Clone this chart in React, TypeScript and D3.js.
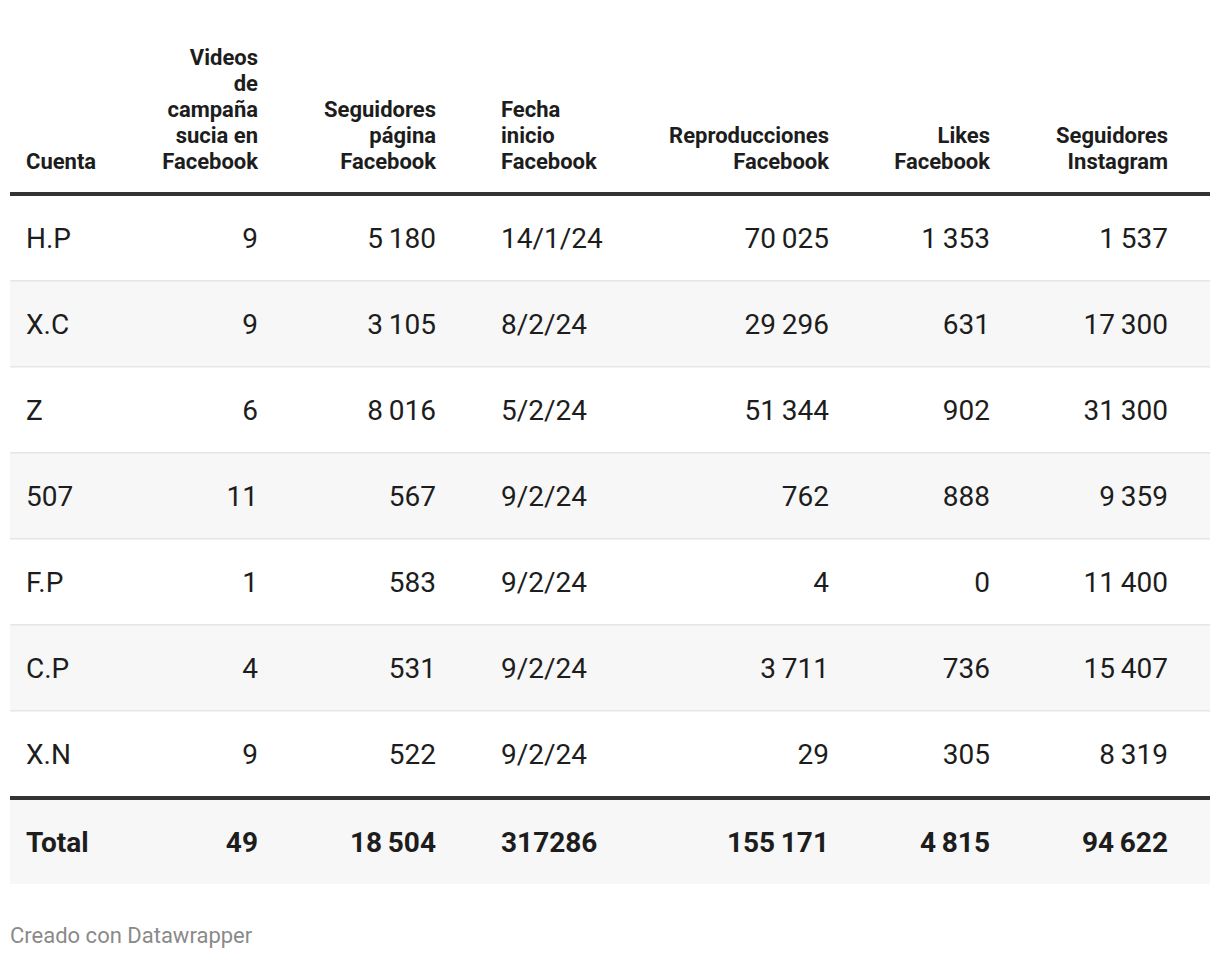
import React from "react";
import * as d3 from "d3";

const headers: string[][] = [
  ["Cuenta"],
  ["Videos", "de", "campaña", "sucia en", "Facebook"],
  ["Seguidores", "página", "Facebook"],
  ["Fecha", "inicio", "Facebook"],
  ["Reproducciones", "Facebook"],
  ["Likes", "Facebook"],
  ["Seguidores", "Instagram"],
];
const cuentas = ["H.P", "X.C", "Z", "507", "F.P", "C.P", "X.N"];
const videos = [9, 9, 6, 11, 1, 4, 9];
const seguidoresPagina = [5180, 3105, 8016, 567, 583, 531, 522];
const fechas = ["14/1/24", "8/2/24", "5/2/24", "9/2/24", "9/2/24", "9/2/24", "9/2/24"];
const reproducciones = [70025, 29296, 51344, 762, 4, 3711, 29];
const likes = [1353, 631, 902, 888, 0, 736, 305];
const seguidoresIG = [1537, 17300, 31300, 9359, 11400, 15407, 8319];
const totalLabel = "Total";
const totals = [49, 18504, 317286, 155171, 4815, 94622];

const locale = d3.formatLocale({ decimal: ",", thousands: "\u2009", grouping: [3], currency: ["", ""] });
const fmt = locale.format(",d");

const W = 1220;
const H = 960;
const left = 10;
const right = 1210;
const headerLineY = 194;
const rowTop = 196;
const rowH = 86;
const FONT = "Roboto, 'Noto Sans', sans-serif";

// column anchors (x, alignment)
const colX = [26, 258, 436, 501, 829, 990, 1168];
const colAlign: ("start" | "end")[] = ["start", "end", "end", "start", "end", "end", "end"];

export default function App() {
  const rowScale = d3.scaleBand<number>().domain(d3.range(cuentas.length)).range([rowTop - 1, rowTop - 1 + rowH * cuentas.length]).padding(0);
  const rows = cuentas.map((c, i) => [
    c,
    fmt(videos[i]),
    fmt(seguidoresPagina[i]),
    fechas[i],
    fmt(reproducciones[i]),
    fmt(likes[i]),
    fmt(seguidoresIG[i]),
  ]);
  const totalRow = [
    totalLabel,
    fmt(totals[0]),
    fmt(totals[1]),
    String(totals[2]),
    fmt(totals[3]),
    fmt(totals[4]),
    fmt(totals[5]),
  ];
  const bodyEnd = rowScale.range()[1];
  const totalTop = bodyEnd + 3;
  const totalH = 84;
  const headerBaseline = 169;
  const headerLH = 26;

  return (
    <div style={{ position: "absolute", left: 0, top: 0, width: W, height: H, background: "#fff" }}>
      <svg width={W} height={H} style={{ display: "block" }}>
        <rect x={0} y={0} width={W} height={H} fill="#fff" />
        {/* header */}
        {headers.map((lines, ci) =>
          lines.map((ln, li) => (
            <text
              key={`h${ci}-${li}`}
              x={colX[ci]}
              y={headerBaseline - (lines.length - 1 - li) * headerLH}
              textAnchor={colAlign[ci]}
              fontFamily={FONT}
              fontWeight={700}
              fontSize={22}
              fill="#1d1d1d"
            >
              {ln}
            </text>
          ))
        )}
        <rect x={left} y={headerLineY - 2} width={right - left} height={4} fill="#333" />

        {/* body rows */}
        {rows.map((r, i) => {
          const y = rowScale(i)!;
          return (
            <g key={`r${i}`}>
              {i % 2 === 1 && <rect x={left} y={y} width={right - left} height={rowH} fill="#f7f7f7" />}
              {i > 0 && <rect x={left} y={y - 1} width={right - left} height={1.5} fill="#e6e6e6" />}
              {r.map((cell, ci) => (
                <text
                  key={`c${ci}`}
                  x={colX[ci]}
                  y={y + rowH / 2 + 10}
                  textAnchor={colAlign[ci]}
                  fontFamily={FONT}
                  fontSize={28}
                  fill="#1d1d1d"
                >
                  {cell}
                </text>
              ))}
            </g>
          );
        })}

        {/* total */}
        <rect x={left} y={totalTop} width={right - left} height={totalH} fill="#f7f7f7" />
        <rect x={left} y={bodyEnd - 1} width={right - left} height={4} fill="#333" />
        {totalRow.map((cell, ci) => (
          <text
            key={`t${ci}`}
            x={colX[ci]}
            y={totalTop + totalH / 2 + 10}
            textAnchor={colAlign[ci]}
            fontFamily={FONT}
            fontWeight={700}
            fontSize={28}
            fill="#1d1d1d"
          >
            {cell}
          </text>
        ))}

        <text x={10} y={943} fontFamily={FONT} fontSize={22} fill="#8a8a8a">
          Creado con Datawrapper
        </text>
      </svg>
    </div>
  );
}
